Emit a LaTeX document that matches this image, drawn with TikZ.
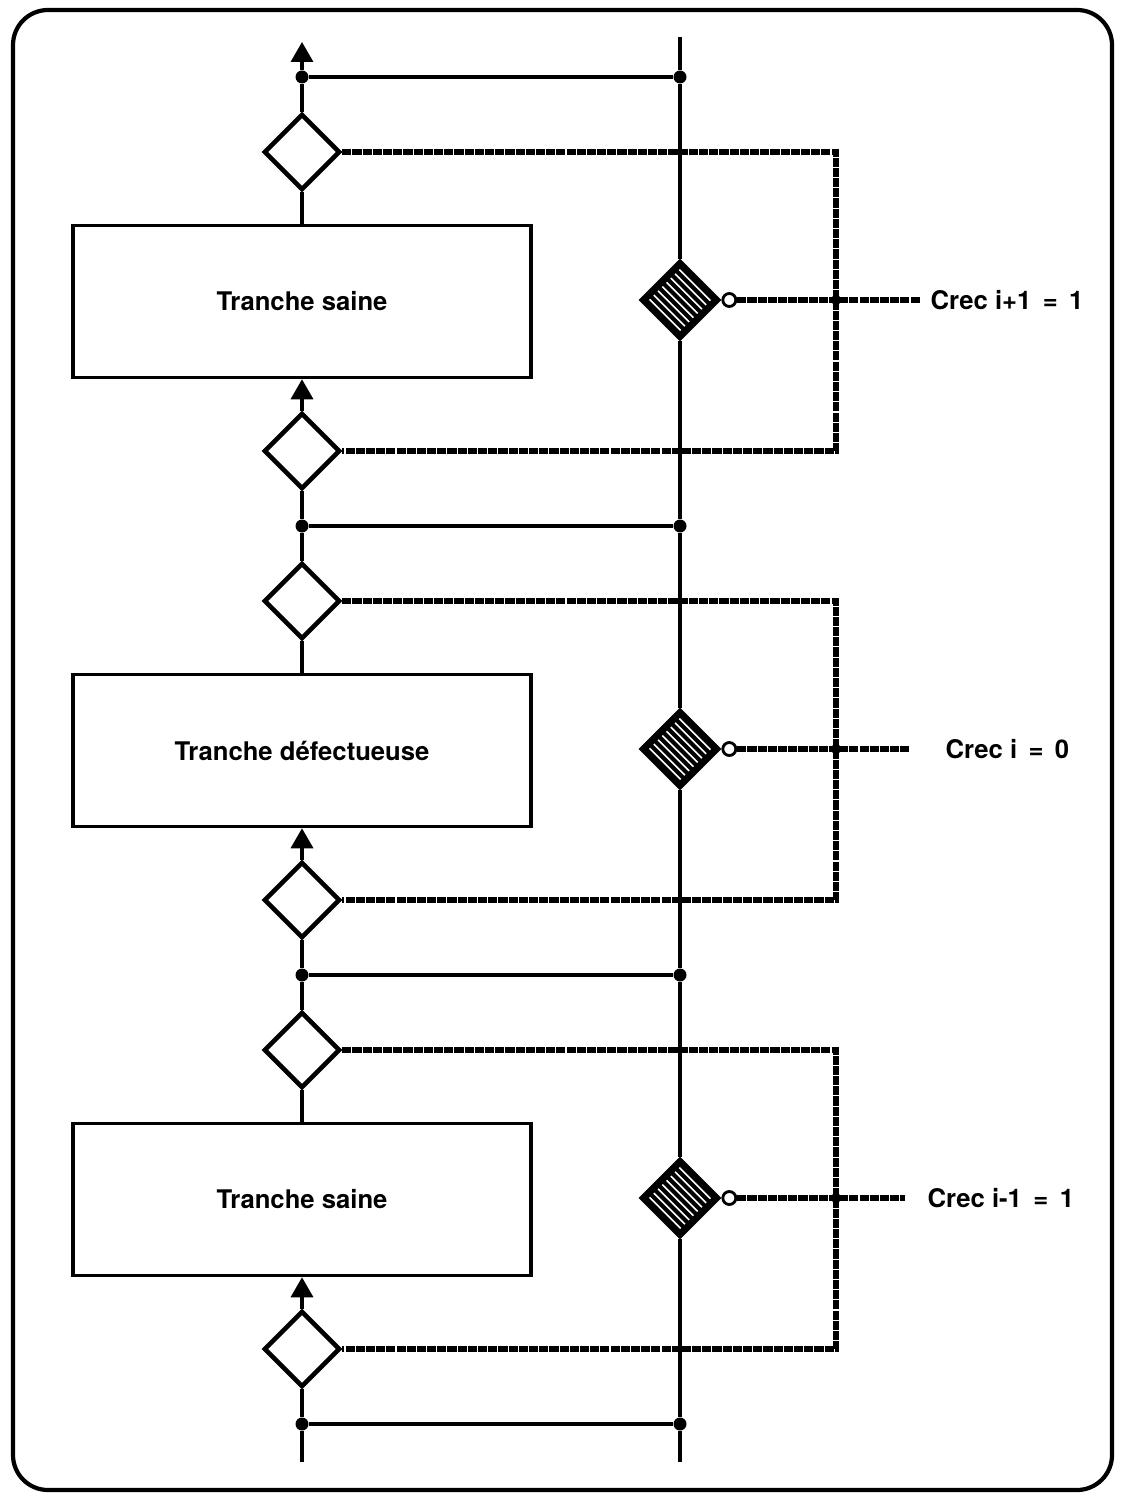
\documentclass[tikz,border=0pt]{standalone}
\usepackage{fontspec}
\setmainfont{TeX Gyre Heros}
\usetikzlibrary{shapes.geometric,arrows.meta,calc}
\tikzset{
  gate/.style={diamond,draw,line width=1.3pt,fill=white,inner sep=0pt,minimum size=0.76cm},
  lock/.style={diamond,draw,line width=0.8pt,fill=black,inner sep=0pt,minimum size=0.8cm},
  slice/.style={rectangle,draw,line width=1pt,minimum width=4.58cm,minimum height=1.52cm,font=\fontsize{7.3}{8}\selectfont\bfseries},
  dot/.style={circle,fill,inner sep=0pt,minimum size=0.13cm},
  ring/.style={circle,draw,line width=0.8pt,fill=white,inner sep=0pt,minimum size=0.13cm},
  wire/.style={line width=1pt},
  wave/.style={line width=1.6pt,dash pattern=on 2.6pt off 0.3pt},
  lbl/.style={anchor=west,inner sep=0pt,font=\fontsize{7.3}{8}\selectfont\bfseries},
  up/.style={-{Triangle[length=0.2cm,width=0.22cm]}}
}
\begin{document}
\begin{tikzpicture}
\useasboundingbox (0,0) rectangle (11.22,-14.99);
\draw[line width=1.2pt,rounded corners=0.35cm] (0.13,-0.10) rectangle (11.12,-14.90);
\foreach \j in {0,...,3}{
  \node[dot] (jl\j) at (3.02,-0.77-4.49*\j) {};
  \node[dot] (jr\j) at (6.80,-0.77-4.49*\j) {};
  \draw[wire] (jl\j) -- (jr\j);
}
\coordinate (topl) at (3.02,-0.42);
\coordinate (topr) at (6.80,-0.37);
\coordinate (botl) at (3.02,-14.62);
\coordinate (botr) at (6.80,-14.62);
\draw[wire,up] (jl0) -- (topl);
\draw[wire] (topr) -- (jr0);
\draw[wire] (botl) -- (jl3);
\draw[wire] (botr) -- (jr3);
\foreach \k/\txt/\crec/\ex/\tx in {0/Tranche saine/Crec i+1 \,=\, 1/9.20/9.30,
    1/Tranche défectueuse/Crec i \,=\, 0/9.10/9.45,
    2/Tranche saine/Crec i-1 \,=\, 1/9.05/9.27}{
  \pgfmathtruncatemacro\n{\k+1}
  \node[gate] (u\k) at (3.02,-1.52-4.49*\k) {};
  \node[slice] (b\k) at (3.02,-3.015-4.49*\k) {\txt};
  \node[gate] (l\k) at (3.02,-4.51-4.49*\k) {};
  \node[lock] (h\k) at (6.80,-3.0-4.49*\k) {};
  \begin{scope}[shift={(h\k.center)},rotate=45]
    \foreach \i in {0,...,7} \draw[white,line width=0.45pt] (-0.21+0.06*\i,-0.22) -- (-0.21+0.06*\i,0.22);
  \end{scope}
  \node[ring,anchor=west] (o\k) at (h\k.east) {};
  \coordinate (c\k) at (8.36,-4.51-4.49*\k);
  \coordinate (e\k) at (\ex,-3.0-4.49*\k);
  \node[lbl] (t\k) at (\tx,-3.0-4.49*\k) {\crec};
  \draw[wire] (jl\n) -- (l\k);
  \draw[wire,up] (l\k) -- (b\k);
  \draw[wire] (b\k) -- (u\k);
  \draw[wire] (u\k) -- (jl\k);
  \draw[wire] (jr\k) -- (h\k);
  \draw[wire] (h\k) -- (jr\n);
  \draw[wave] (u\k.east) -| (c\k) |- (l\k.east);
  \draw[wave] (o\k) -- (e\k);
  \node[dot,minimum size=0.1cm] (x\k) at (8.36,-3.0-4.49*\k) {};
}
\end{tikzpicture}
\end{document}
